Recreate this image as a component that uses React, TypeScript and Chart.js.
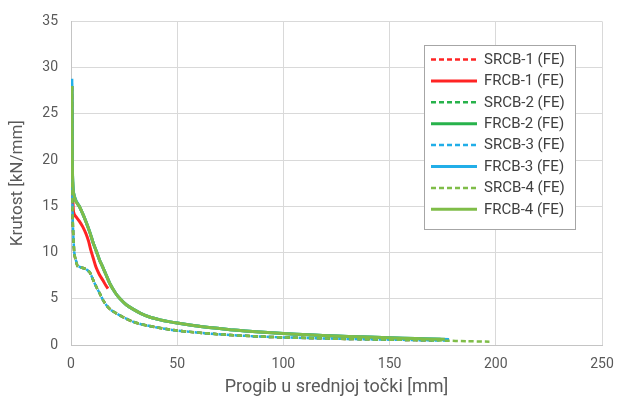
import React, { useEffect, useRef } from "react";
import { Chart, registerables } from "chart.js";

Chart.register(...registerables);

// ---- data ----
const seriesNames = [
  "SRCB-1 (FE)",
  "FRCB-1 (FE)",
  "SRCB-2 (FE)",
  "FRCB-2 (FE)",
  "SRCB-3 (FE)",
  "FRCB-3 (FE)",
  "SRCB-4 (FE)",
  "FRCB-4 (FE)",
];
const seriesColors = ["#ff2424", "#ff2424", "#27b24b", "#27b24b", "#22aee8", "#22aee8", "#7fbd48", "#7fbd48"];
const seriesDashed = [true, false, true, false, true, false, true, false];

// SRCB (lower curves)
const srcbX = [0.4, 0.5, 0.6, 0.8, 1.2, 1.6, 2.4, 3.2, 4.5, 6, 7.1, 8.2, 9.0, 10.5, 12.1, 13.7, 15.2, 17, 19, 21.5, 23, 26, 29.4, 33, 36, 40.4, 45, 50, 56, 62, 69, 75, 82, 89, 100, 112, 125, 136, 150, 162];
const srcb1Y = [28.0, 22.0, 17.0, 13.5, 11.2, 9.8, 9.0, 8.5, 8.4, 8.3, 8.2, 8.0, 7.8, 7.0, 6.2, 5.5, 4.8, 4.2, 3.75, 3.4, 3.2, 2.85, 2.5, 2.25, 2.1, 1.9, 1.72, 1.55, 1.42, 1.3, 1.17, 1.08, 0.99, 0.91, 0.82, 0.75, 0.68, 0.63, 0.58, 0.53];
const srcb2Y = [28.0, 22.2, 17.2, 13.6, 11.3, 9.9, 9.0, 8.5, 8.4, 8.3, 8.2, 8.0, 7.8, 7.0, 6.2, 5.5, 4.8, 4.2, 3.75, 3.4, 3.2, 2.85, 2.5, 2.25, 2.1, 1.9, 1.72, 1.55, 1.42, 1.3, 1.17, 1.08, 0.99, 0.91, 0.82, 0.75, 0.68, 0.63, 0.58, 0.53];
const srcb3Y = [28.3, 22.4, 17.3, 13.7, 11.3, 9.9, 9.1, 8.6, 8.4, 8.3, 8.2, 8.0, 7.8, 7.0, 6.2, 5.5, 4.8, 4.2, 3.75, 3.4, 3.2, 2.85, 2.5, 2.25, 2.1, 1.9, 1.72, 1.55, 1.42, 1.3, 1.17, 1.08, 0.99, 0.91, 0.82, 0.75, 0.68, 0.63, 0.58, 0.53];
const srcb4Y = [28.0, 22.0, 17.0, 13.5, 11.2, 9.8, 9.0, 8.5, 8.4, 8.3, 8.2, 8.0, 7.8, 7.0, 6.2, 5.5, 4.8, 4.2, 3.75, 3.4, 3.2, 2.85, 2.5, 2.25, 2.1, 1.9, 1.72, 1.55, 1.42, 1.3, 1.17, 1.08, 0.99, 0.91, 0.82, 0.75, 0.68, 0.63, 0.58, 0.53];
const srcb1TailX = [170];
const srcb1TailY = [0.5];
const srcb2TailX = [172];
const srcb2TailY = [0.49];
const srcb3TailX = [178];
const srcb3TailY = [0.47];
const srcb4TailX = [176, 186, 197];
const srcb4TailY = [0.47, 0.41, 0.36];

// FRCB-2/3/4 (upper curves)
const frcbX = [0.4, 0.5, 0.6, 0.8, 1.2, 2.4, 3.9, 5.5, 7.1, 9.0, 10.5, 12.0, 13.4, 15, 16.5, 18.4, 21, 23.1, 26, 29.4, 33, 37.3, 42, 46, 50, 56, 61, 69, 75, 82, 89, 100, 112, 125, 136, 150, 162];
const frcb2Y = [28.0, 24.0, 20.0, 17.7, 16.4, 15.5, 15.0, 14.2, 13.3, 12.1, 11.0, 10.1, 9.2, 8.4, 7.6, 6.6, 5.6, 5.0, 4.35, 3.85, 3.4, 3.0, 2.72, 2.53, 2.38, 2.17, 2.0, 1.8, 1.65, 1.52, 1.4, 1.25, 1.1, 0.98, 0.88, 0.78, 0.7];
const frcb3Y = [28.8, 24.5, 20.3, 17.9, 16.5, 15.6, 15.0, 14.2, 13.3, 12.1, 11.0, 10.1, 9.2, 8.4, 7.6, 6.6, 5.6, 5.0, 4.35, 3.85, 3.4, 3.0, 2.72, 2.53, 2.38, 2.17, 2.0, 1.8, 1.65, 1.52, 1.4, 1.25, 1.1, 0.98, 0.88, 0.78, 0.7];
const frcb4Y = [28.0, 24.0, 20.0, 17.7, 16.4, 15.5, 15.0, 14.2, 13.3, 12.1, 11.0, 10.1, 9.2, 8.4, 7.6, 6.6, 5.6, 5.0, 4.35, 3.85, 3.4, 3.0, 2.72, 2.53, 2.38, 2.17, 2.0, 1.8, 1.65, 1.52, 1.4, 1.25, 1.1, 0.98, 0.88, 0.78, 0.7];
const frcb2TailX = [174];
const frcb2TailY = [0.62];
const frcb3TailX = [178];
const frcb3TailY = [0.6];
const frcb4TailX = [176];
const frcb4TailY = [0.61];

// FRCB-1 (short red solid curve)
const frcb1X = [0.4, 0.5, 0.6, 0.8, 1.1, 1.6, 2.6, 3.9, 5.5, 7.1, 8.3, 9.4, 10.6, 11.8, 13.4, 15, 16.5, 17.4];
const frcb1Y = [28.0, 24.0, 20.0, 16.5, 14.6, 14.1, 13.8, 13.4, 12.8, 12.0, 11.2, 10.2, 9.3, 8.4, 7.6, 7.0, 6.4, 6.1];

const xTicks = [0, 50, 100, 150, 200, 250];
const yTicks = [0, 5, 10, 15, 20, 25, 30, 35];
const xTitle = "Progib u srednjoj točki [mm]";
const yTitle = "Krutost [kN/mm]";

function pts(xs: number[], ys: number[], tx: number[] = [], ty: number[] = []) {
  const a = xs.map((x, i) => ({ x, y: ys[i] }));
  const b = tx.map((x, i) => ({ x, y: ty[i] }));
  return a.concat(b);
}

const seriesData = [
  pts(srcbX, srcb1Y, srcb1TailX, srcb1TailY),
  pts(frcb1X, frcb1Y),
  pts(srcbX, srcb2Y, srcb2TailX, srcb2TailY),
  pts(frcbX, frcb2Y, frcb2TailX, frcb2TailY),
  pts(srcbX, srcb3Y, srcb3TailX, srcb3TailY),
  pts(frcbX, frcb3Y, frcb3TailX, frcb3TailY),
  pts(srcbX, srcb4Y, srcb4TailX, srcb4TailY),
  pts(frcbX, frcb4Y, frcb4TailX, frcb4TailY),
];

const FONT = "Roboto, 'DejaVu Sans', sans-serif";
const DASH = [5, 3];
const SOLID_W = 3;
const DASH_W = 2.5;

const legendPlugin = {
  id: "boxLegend",
  afterDatasetsDraw(chart: any) {
    const ctx = chart.ctx;
    const bx = 424.5, by = 45.5, bw = 151, bh = 184;
    ctx.save();
    ctx.fillStyle = "#ffffff";
    ctx.fillRect(bx, by, bw, bh);
    ctx.strokeStyle = "#a6a6a6";
    ctx.lineWidth = 1;
    ctx.strokeRect(bx, by, bw, bh);
    ctx.font = "15px " + FONT;
    ctx.textBaseline = "middle";
    ctx.textAlign = "left";
    seriesNames.forEach((name, i) => {
      const y = 59.5 + i * 21.4;
      ctx.beginPath();
      ctx.strokeStyle = seriesColors[i];
      ctx.lineWidth = seriesDashed[i] ? DASH_W : SOLID_W;
      ctx.setLineDash(seriesDashed[i] ? DASH : []);
      ctx.moveTo(431, y);
      ctx.lineTo(477, y);
      ctx.stroke();
      ctx.setLineDash([]);
      ctx.fillStyle = "#404040";
      ctx.fillText(name, 484, y + 0.5);
    });
    ctx.restore();
  },
};

export default function App() {
  const ref = useRef<HTMLCanvasElement | null>(null);
  useEffect(() => {
    document.body.style.margin = "0";
    const canvas = ref.current!;
    const chart = new Chart(canvas, {
      type: "line",
      data: {
        datasets: seriesNames.map((name, i) => ({
          label: name,
          data: seriesData[i],
          borderColor: seriesColors[i],
          backgroundColor: seriesColors[i],
          borderWidth: seriesDashed[i] ? DASH_W : SOLID_W,
          borderDash: seriesDashed[i] ? DASH : [],
          pointRadius: 0,
          tension: 0.2,
          fill: false,
          order: seriesNames.length - i,
        })),
      },
      options: {
        animation: false,
        responsive: false,
        devicePixelRatio: 1,
        layout: { padding: { top: 18, right: 24, left: 0, bottom: 0 } },
        plugins: {
          legend: { display: false },
          tooltip: { enabled: false },
        },
        scales: {
          x: {
            type: "linear",
            min: 0,
            max: 250,
            afterBuildTicks: (s: any) => {
              s.ticks = xTicks.map((v) => ({ value: v }));
            },
            afterFit: (s: any) => {
              s.height = 53;
            },
            grid: { color: "#d9d9d9", lineWidth: 1, drawTicks: false },
            border: { color: "#c4c4c4", width: 1 },
            ticks: { color: "#595959", font: { family: FONT, size: 14 }, padding: 11, maxRotation: 0 },
            title: {
              display: true,
              text: xTitle,
              color: "#595959",
              font: { family: FONT, size: 18 },
              padding: { top: 0, bottom: 0 },
            },
          },
          y: {
            type: "linear",
            min: 0,
            max: 35,
            afterBuildTicks: (s: any) => {
              s.ticks = yTicks.map((v) => ({ value: v }));
            },
            afterFit: (s: any) => {
              s.width = 71;
            },
            grid: { color: "#d9d9d9", lineWidth: 1, drawTicks: false },
            border: { color: "#c4c4c4", width: 1 },
            ticks: { color: "#595959", font: { family: FONT, size: 14 }, padding: 13 },
            title: {
              display: true,
              text: yTitle,
              color: "#595959",
              font: { family: FONT, size: 17 },
              padding: { top: 8, bottom: 0 },
            },
          },
        },
      },
      plugins: [legendPlugin],
    } as any);
    return () => chart.destroy();
  }, []);
  return <canvas ref={ref} width={626} height={398} style={{ display: "block" }} />;
}
